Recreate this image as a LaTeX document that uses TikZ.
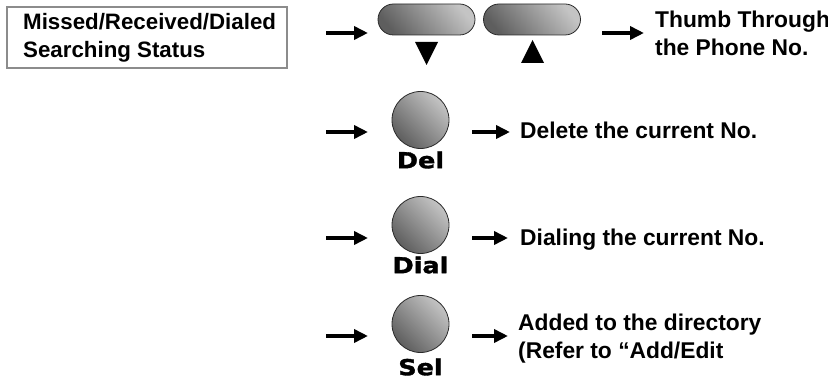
\documentclass[tikz,border=0pt]{standalone}
\usepackage{fontspec}
\setmainfont{Liberation Sans}
\newfontfamily\lblfont[FakeStretch=1.16, BoldFeatures={FakeBold=1.6}]{DejaVu Sans}
\usetikzlibrary{arrows.meta}
\definecolor{boxgray}{HTML}{8C8C8C}
\definecolor{btndark}{HTML}{5E5E5E}
\definecolor{btnlight}{HTML}{C4C4C4}
\definecolor{edgegray}{HTML}{2A2A2A}
\tikzset{
  txt/.style={font=\fontsize{22.8}{28}\selectfont\bfseries, inner sep=0pt, align=left, anchor=base west},
  boxtxt/.style={txt, font=\fontsize{22.3}{28}\selectfont\bfseries},
  lbl/.style={font=\fontsize{22}{24}\lblfont\bfseries, inner sep=0pt},
  pill/.style={draw=edgegray, line width=0.8pt, rounded corners=15.5pt, minimum width=97pt, minimum height=31pt, inner sep=0pt,
    top color=btnlight, bottom color=btndark, shading angle=-50},
  btn/.style={circle, draw=edgegray, line width=0.8pt, minimum size=57pt, inner sep=0pt,
    top color=btnlight, bottom color=btndark, shading angle=-45},
  arr/.style={line width=4pt, -{Triangle[length=14pt,width=13pt]}},
  tri/.style={fill=black}
}
\begin{document}
\begin{tikzpicture}[x=1pt,y=-1pt]
\useasboundingbox (0,0) rectangle (828,379);
% status box
\draw[boxgray, line width=2pt] (7,7) rectangle (287,68);
\node[boxtxt] (status) at (23,58) {Missed/Received/Dialed\\Searching Status};
% scroll buttons
\node[pill] (down) at (426.5,19.5) {};
\node[pill] (up) at (532,19.5) {};
\fill[tri] (415,42) -- (438,42) -- (426.5,65) -- cycle;
\fill[tri] (521,63) -- (544,63) -- (532.5,40) -- cycle;
\coordinate (a0s) at (326,33); \coordinate (a0e) at (368,33);
\coordinate (b0s) at (602,33); \coordinate (b0e) at (644,33);
\draw[arr] (a0s) -- (a0e);
\draw[arr] (b0s) -- (b0e);
\node[txt] (thumb) at (655,56) {Thumb Through\\the Phone No.};
% Del
\node[btn] (del) at (420.5,120) {};
\node[lbl] (dellbl) at (420.5,160) {Del};
\coordinate (a1s) at (326,132); \coordinate (a1e) at (368,132);
\coordinate (b1s) at (472,132); \coordinate (b1e) at (510,132);
\draw[arr] (a1s) -- (a1e);
\draw[arr] (b1s) -- (b1e);
\node[txt] (deltxt) at (520,139) {Delete the current No.};
% Dial
\node[btn] (dial) at (420.5,225) {};
\node[lbl] (diallbl) at (420.5,265) {Dial};
\coordinate (a2s) at (326,238); \coordinate (a2e) at (368,238);
\coordinate (b2s) at (472,238); \coordinate (b2e) at (508,238);
\draw[arr] (a2s) -- (a2e);
\draw[arr] (b2s) -- (b2e);
\node[txt] (dialtxt) at (520,246) {Dialing the current No.};
% Sel
\node[btn] (sel) at (420.5,324) {};
\node[lbl] (sellbl) at (420.5,367) {Sel};
\coordinate (a3s) at (326,336); \coordinate (a3e) at (368,336);
\coordinate (b3s) at (472,336); \coordinate (b3e) at (508,336);
\draw[arr] (a3s) -- (a3e);
\draw[arr] (b3s) -- (b3e);
\node[txt] (seltxt) at (518,359) {Added to the directory\\(Refer to “Add/Edit};
\end{tikzpicture}
\end{document}
